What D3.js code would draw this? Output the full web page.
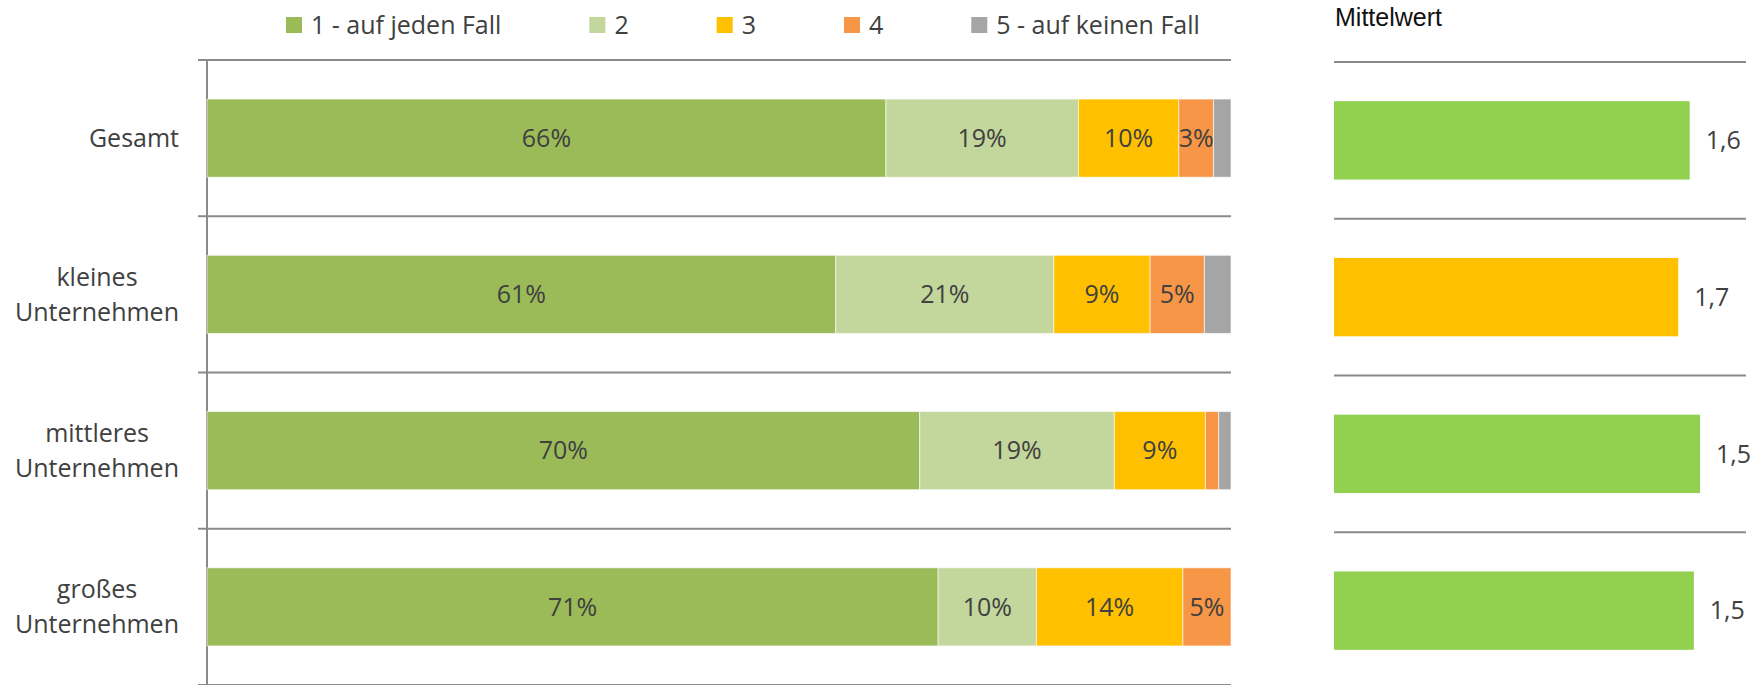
<!DOCTYPE html>
<html>
<head>
<meta charset="utf-8">
<script src="https://cdn.jsdelivr.net/npm/d3@7"></script>
<style>
    body { margin: 0; background: #fff; }
    text { font-family: "Open Sans", sans-serif; fill: #404040; }
</style>
</head>
<body>
<div id="root"></div>
<script>
// chart data
var categories = [
    ["Gesamt"],
    ["kleines", "Unternehmen"],
    ["mittleres", "Unternehmen"],
    ["großes", "Unternehmen"]
];
var seriesNames = ["1 - auf jeden Fall", "2", "3", "4", "5 - auf keinen Fall"];
var answer1 = [66.3, 61.4, 69.6, 71.4];
var answer2 = [18.8, 21.3, 19.0, 9.6];
var answer3 = [9.8, 9.4, 8.9, 14.3];
var answer4 = [3.4, 5.3, 1.3, 4.7];
var answer5 = [1.7, 2.6, 1.2, 0];
var meanValues = [1.58, 1.69, 1.48, 1.54];

var seriesColors = ["#9bbb59", "#c3d69b", "#ffc000", "#f79646", "#a5a5a5"];
var lineColor = "#8a8a8a";

var width = 1764,
    height = 685;

var svg = d3
    .select("#root")
    .append("svg")
    .attr("width", width)
    .attr("height", height);

// table for the stack layout
var answers = [answer1, answer2, answer3, answer4, answer5];
var table = categories.map((c, i) => {
    var row = { key: i };
    seriesNames.forEach((s, j) => {
        row[s] = answers[j][i];
    });
    return row;
});
var stacked = d3.stack().keys(seriesNames)(table);

// left chart scales
var x = d3.scaleLinear().domain([0, 100]).range([207, 1231]);
var y = d3
    .scaleBand()
    .domain(d3.range(categories.length))
    .range([60, 685])
    .paddingInner(0.5)
    .paddingOuter(0.25);

// separator lines between categories
var bounds = d3.range(categories.length + 1).map((i) => 60 + i * y.step());
svg.append("g")
    .selectAll("line")
    .data(bounds)
    .enter()
    .append("line")
    .attr("x1", 198)
    .attr("x2", 1231)
    .attr("y1", (d) => d)
    .attr("y2", (d) => d)
    .attr("stroke", lineColor)
    .attr("stroke-width", 2);

svg.append("line")
    .attr("x1", 207)
    .attr("x2", 207)
    .attr("y1", 60)
    .attr("y2", 685)
    .attr("stroke", lineColor)
    .attr("stroke-width", 2);

// stacked bars
var layers = svg
    .append("g")
    .selectAll("g")
    .data(stacked)
    .enter()
    .append("g")
    .attr("fill", (d, i) => seriesColors[i]);

layers
    .selectAll("rect")
    .data((d) => d)
    .enter()
    .append("rect")
    .attr("x", (d) => x(d[0]))
    .attr("y", (d) => y(d.data.key))
    .attr("width", (d) => Math.max(0, x(d[1]) - x(d[0])))
    .attr("height", y.bandwidth())
    .attr("stroke", "#fff")
    .attr("stroke-opacity", 0.6)
    .attr("stroke-width", 1);

// only segments of 3% or more get a label
layers
    .selectAll("text")
    .data((d) => d.filter((p) => p[1] - p[0] >= 3))
    .enter()
    .append("text")
    .attr("x", (d) => (x(d[0]) + x(d[1])) / 2)
    .attr("y", (d) => y(d.data.key) + y.bandwidth() / 2)
    .attr("dy", "0.35em")
    .attr("text-anchor", "middle")
    .style("font-size", "25px")
    .text((d) => Math.round(d[1] - d[0]) + "%");

// category labels: block right aligned, lines centred in the block
var labelRight = 179,
    lineGap = 35;
categories.forEach((lines, i) => {
    var cy = y(i) + y.bandwidth() / 2;
    var g = svg.append("g");
    var texts = lines.map((t, k) =>
        g.append("text")
            .attr("y", cy + (k - (lines.length - 1) / 2) * lineGap)
            .attr("dy", "0.35em")
            .attr("text-anchor", "middle")
            .style("font-size", "25px")
            .text(t)
    );
    var blockW = d3.max(texts, (t) => t.node().getComputedTextLength());
    texts.forEach((t) => t.attr("x", labelRight - blockW / 2));
});

// legend
var legendX = 286;
seriesNames.forEach((s, i) => {
    svg.append("rect")
        .attr("x", legendX)
        .attr("y", 17)
        .attr("width", 16)
        .attr("height", 16)
        .attr("fill", seriesColors[i]);
    var t = svg
        .append("text")
        .attr("x", legendX + 25)
        .attr("y", 25)
        .attr("dy", "0.35em")
        .style("font-size", "25px")
        .text(s);
    legendX += 25 + t.node().getComputedTextLength() + 88;
});

// right chart: mean values, reversed scale (1 is best)
var xm = d3.scaleLinear().domain([5, 1]).range([1334, 1750]);
var ym = d3
    .scaleBand()
    .domain(d3.range(categories.length))
    .range([62, 689])
    .paddingInner(0.5)
    .paddingOuter(0.25);

svg.append("text")
    .attr("x", 1335)
    .attr("y", 26)
    .style("font-family", "'Liberation Sans', Arial, sans-serif")
    .style("font-size", "25px")
    .style("fill", "#111")
    .text("Mittelwert");

var mBounds = d3.range(categories.length + 1).map((i) => 62 + i * ym.step());
svg.append("g")
    .selectAll("line")
    .data(mBounds)
    .enter()
    .append("line")
    .attr("x1", 1334)
    .attr("x2", 1746)
    .attr("y1", (d) => d)
    .attr("y2", (d) => d)
    .attr("stroke", lineColor)
    .attr("stroke-width", 2);

var worst = d3.max(meanValues);
svg.append("g")
    .selectAll("rect")
    .data(meanValues)
    .enter()
    .append("rect")
    .attr("x", xm(5))
    .attr("y", (d, i) => ym(i))
    .attr("width", (d) => xm(d) - xm(5))
    .attr("height", ym.bandwidth())
    .attr("fill", (d) => (d === worst ? "#ffc000" : "#92d050"));

svg.append("g")
    .selectAll("text")
    .data(meanValues)
    .enter()
    .append("text")
    .attr("x", (d) => xm(d) + 16)
    .attr("y", (d, i) => ym(i) + ym.bandwidth() / 2)
    .attr("dy", "0.35em")
    .style("font-size", "25px")
    .text((d) => d.toFixed(1).replace(".", ","));
</script>
</body>
</html>
